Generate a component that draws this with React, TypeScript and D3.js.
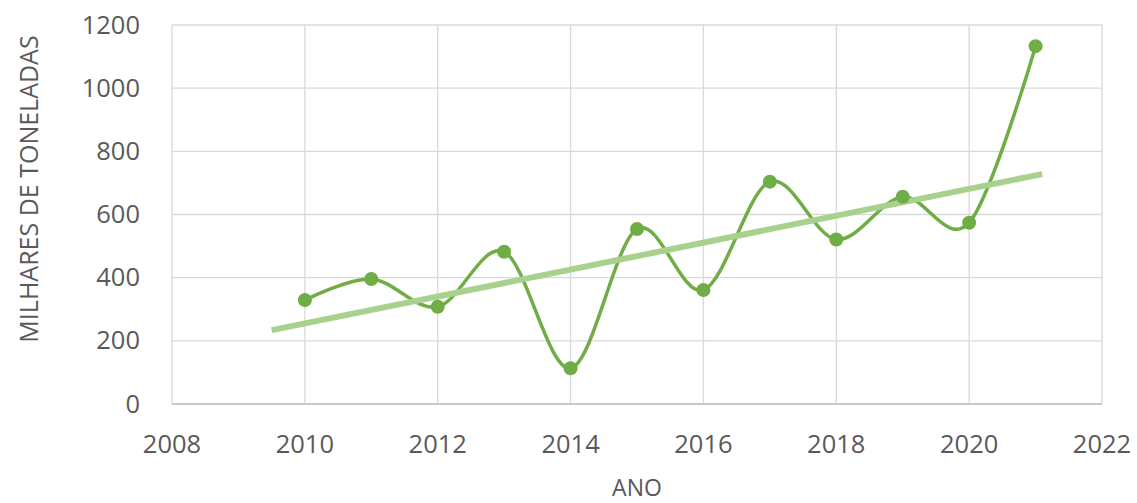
import { useEffect, useRef } from "react";
import * as d3 from "d3";

const years = [2010, 2011, 2012, 2013, 2014, 2015, 2016, 2017, 2018, 2019, 2020, 2021];
const values = [329, 396, 308, 482, 113, 554, 361, 704, 521, 656, 574, 1133];
// trendline ends as drawn in the picture
const trendYears = [2009.5, 2021.1];
const trendValues = [234, 728];
const xTicks = [2008, 2010, 2012, 2014, 2016, 2018, 2020, 2022];
const yTicks = [0, 200, 400, 600, 800, 1000, 1200];

const W = 1137;
const H = 503;
const font = "'Open Sans', 'Noto Sans', sans-serif";

export default function App() {
  const svgRef = useRef<SVGSVGElement>(null);

  useEffect(() => {
    if (!svgRef.current) return;
    const svg = d3.select(svgRef.current);
    svg.selectAll("*").remove();

    const x = d3.scaleLinear([2008, 2022], [172, 1102]);
    const y = d3.scaleLinear([0, 1200], [404, 25]);

    // grid
    const grid = svg.append("g").attr("stroke", "#d9d9d9").attr("stroke-width", 1.3);
    grid.selectAll("line.h")
      .data(yTicks)
      .join("line")
      .attr("class", "h")
      .attr("x1", x(2008)).attr("x2", x(2022))
      .attr("y1", (d) => y(d)).attr("y2", (d) => y(d));
    grid.selectAll("line.v")
      .data(xTicks)
      .join("line")
      .attr("class", "v")
      .attr("x1", (d) => x(d)).attr("x2", (d) => x(d))
      .attr("y1", y(0)).attr("y2", y(1200));

    // bottom axis line slightly darker
    svg.append("line")
      .attr("x1", x(2008)).attr("x2", x(2022))
      .attr("y1", y(0)).attr("y2", y(0))
      .attr("stroke", "#bfbfbf").attr("stroke-width", 1.3);

    // tick labels
    svg.append("g").selectAll("text")
      .data(xTicks)
      .join("text")
      .attr("x", (d) => x(d))
      .attr("y", 453)
      .attr("text-anchor", "middle")
      .attr("font-family", font)
      .attr("font-size", 25.5)
      .attr("fill", "#595959")
      .text((d) => d);

    svg.append("g").selectAll("text")
      .data(yTicks)
      .join("text")
      .attr("x", 140)
      .attr("y", (d) => y(d) + 8.5)
      .attr("text-anchor", "end")
      .attr("font-family", font)
      .attr("font-size", 25.5)
      .attr("fill", "#595959")
      .text((d) => d);

    // axis titles
    svg.append("text")
      .attr("x", 637)
      .attr("y", 496)
      .attr("text-anchor", "middle")
      .attr("font-family", font)
      .attr("font-size", 23)
      .attr("fill", "#595959")
      .text("ANO");

    svg.append("text")
      .attr("transform", `translate(38,${189}) rotate(-90)`)
      .attr("text-anchor", "middle")
      .attr("font-family", font)
      .attr("font-size", 25)
      .attr("fill", "#595959")
      .text("MILHARES DE TONELADAS");

    const pts: [number, number][] = years.map((yr, i) => [yr, values[i]]);

    // smooth series
    const line = d3.line<[number, number]>()
      .x((d) => x(d[0]))
      .y((d) => y(d[1]))
      .curve(d3.curveCardinal.tension(0));
    svg.append("path")
      .datum(pts)
      .attr("d", line)
      .attr("fill", "none")
      .attr("stroke", "#70ad47")
      .attr("stroke-width", 3.5)
      .attr("stroke-linecap", "round");

    // trendline
    const trend: [number, number][] = trendYears.map((yr, i) => [yr, trendValues[i]]);
    svg.append("path")
      .datum(trend)
      .attr("d", d3.line<[number, number]>().x((d) => x(d[0])).y((d) => y(d[1])))
      .attr("fill", "none")
      .attr("stroke", "#a9d18e")
      .attr("stroke-width", 6);

    // markers
    svg.append("g").selectAll("circle")
      .data(pts)
      .join("circle")
      .attr("cx", (d) => x(d[0]))
      .attr("cy", (d) => y(d[1]))
      .attr("r", 7)
      .attr("fill", "#70ad47");
  }, []);

  return (
    <svg
      ref={svgRef}
      width={W}
      height={H}
      style={{ position: "absolute", left: 0, top: 0, background: "#fff" }}
    />
  );
}
